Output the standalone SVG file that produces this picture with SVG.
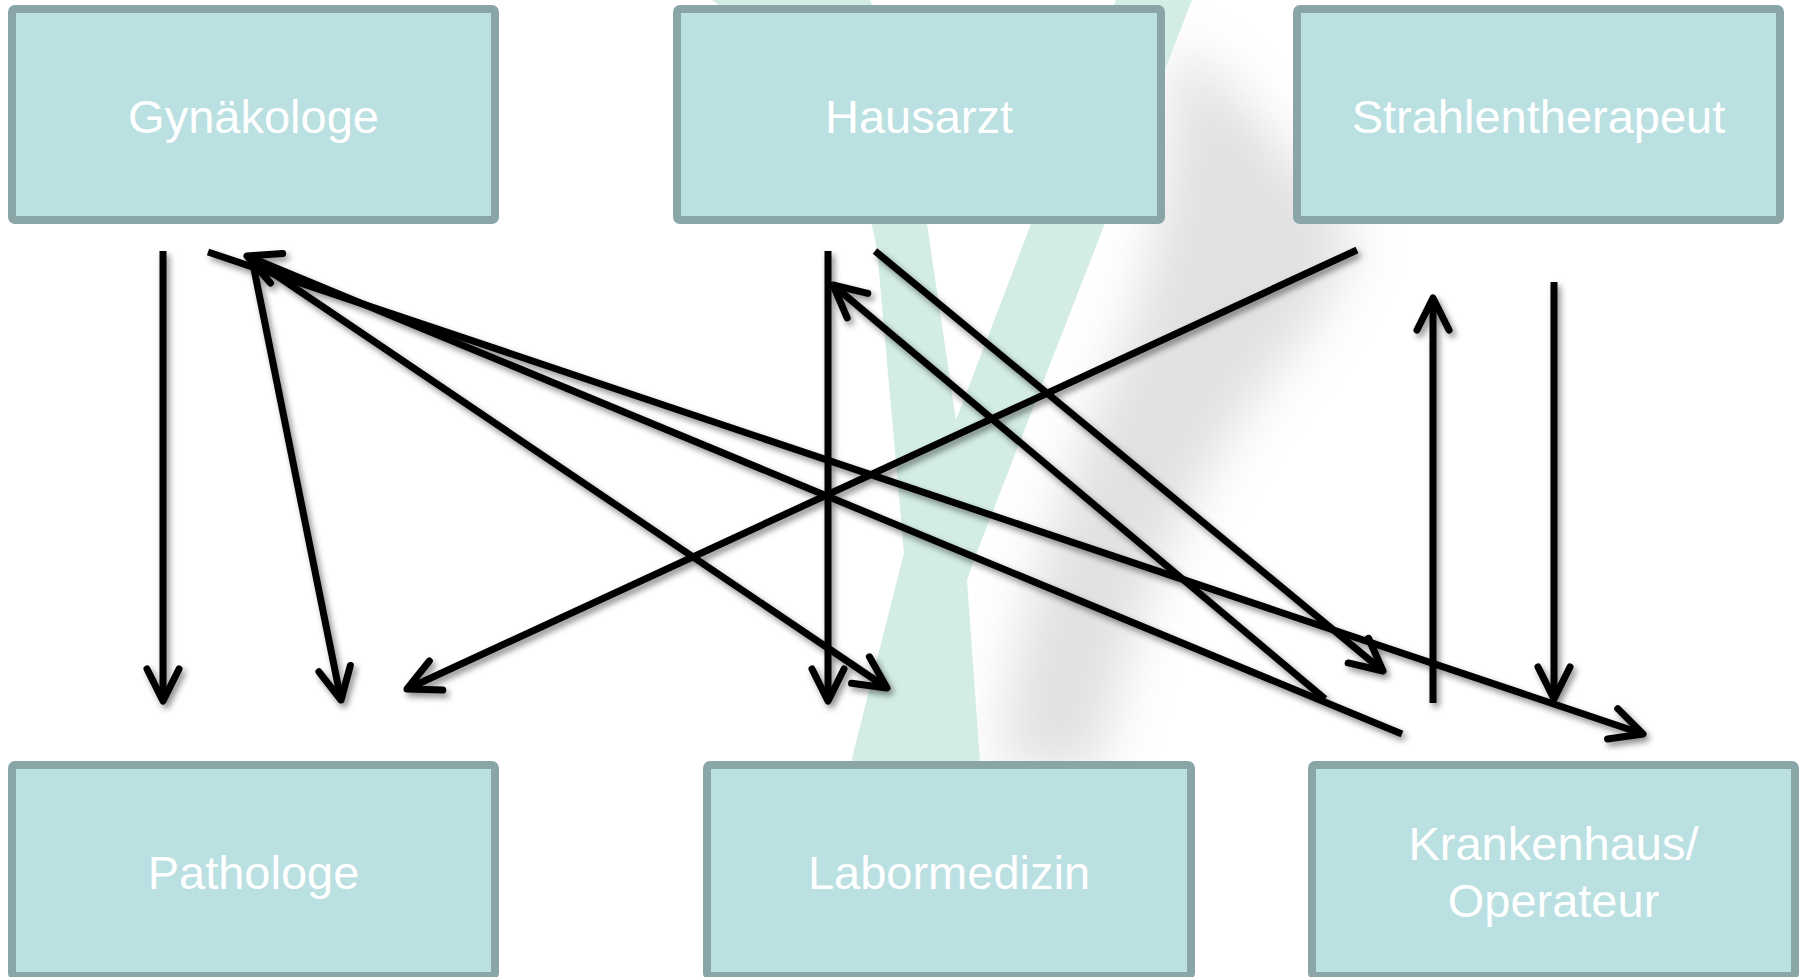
<svg xmlns="http://www.w3.org/2000/svg" width="1806" height="977" viewBox="0 0 1806 977">
<defs>
<style>
.box{fill:#bae0e2;stroke:#8aa5a8;stroke-width:8}
.lbl{font-family:"Liberation Sans",Arial,Helvetica,sans-serif;font-size:47px;fill:#ffffff;text-anchor:middle}
.con{fill:none;stroke:#000;stroke-width:7;marker-end:url(#ah)}
</style>
<marker id="ah" viewBox="-40 -22 46 44" markerWidth="46" markerHeight="44" refX="0" refY="0" orient="auto" markerUnits="userSpaceOnUse" overflow="visible">
<path d="M-32,-16 L0,0 L-32,16" fill="none" stroke="#000" stroke-width="7" stroke-linecap="round" stroke-linejoin="round"/>
</marker>
<filter id="sh" x="-10%" y="-10%" width="120%" height="120%">
<feDropShadow dx="3" dy="4" stdDeviation="3" flood-color="#000" flood-opacity="0.45"/>
</filter>
<filter id="blur" x="-50%" y="-50%" width="200%" height="200%">
<feGaussianBlur stdDeviation="26"/>
</filter>
</defs>
<rect width="1806" height="977" fill="#ffffff"/>
<g id="background">
<g opacity="0.45" filter="url(#blur)">
<path d="M1175,40 C1240,90 1300,170 1360,240 L1310,330 C1230,420 1140,560 1100,770 L1000,770 C1010,620 1070,470 1125,340 C1160,250 1172,150 1175,40 Z" fill="#bdbdbd"/>
</g>
<path d="M712,0 L870,0 C900,60 915,140 927,224 L956,420 L1031,224 L1116,0 L1192,0 L977,552 L967,580 L980,762 L851,762 L904,553 L877,250 C860,150 800,60 712,0 Z" fill="#d3ede4"/>
</g>
<g id="node-gynaekologe"><rect class="box" x="12" y="9" width="483" height="211" rx="3"/><text class="lbl" x="253.5" y="133">Gynäkologe</text></g>
<g id="node-hausarzt"><rect class="box" x="677" y="9" width="484" height="211" rx="3"/><text class="lbl" x="919" y="133">Hausarzt</text></g>
<g id="node-strahlentherapeut"><rect class="box" x="1297" y="9" width="483" height="211" rx="3"/><text class="lbl" x="1538.5" y="133">Strahlentherapeut</text></g>
<g id="node-pathologe"><rect class="box" x="12" y="765" width="483" height="211" rx="3"/><text class="lbl" x="253.5" y="889">Pathologe</text></g>
<g id="node-labormedizin"><rect class="box" x="707" y="765" width="484" height="211" rx="3"/><text class="lbl" x="949" y="889">Labormedizin</text></g>
<g id="node-krankenhaus"><rect class="box" x="1312" y="765" width="483" height="211" rx="3"/><text class="lbl" x="1553.5" y="860">Krankenhaus/</text><text class="lbl" x="1553.5" y="917">Operateur</text></g>
<g id="connectors" filter="url(#sh)">
<path class="con" d="M163,251 L163,701"/>
<path class="con" d="M252,259 L341,700"/>
<path class="con" d="M252,259 L887,688"/>
<path class="con" d="M1402,734 L247,256"/>
<path class="con" d="M208,252 L1643,734"/>
<path class="con" d="M828,251 L828,701"/>
<path class="con" d="M1325,699 L833,285"/>
<path class="con" d="M875,251 L1383,671"/>
<path class="con" d="M1357,250 L407,689"/>
<path class="con" d="M1433,703 L1433,298"/>
<path class="con" d="M1554,282 L1554,699"/>
</g>
</svg>
